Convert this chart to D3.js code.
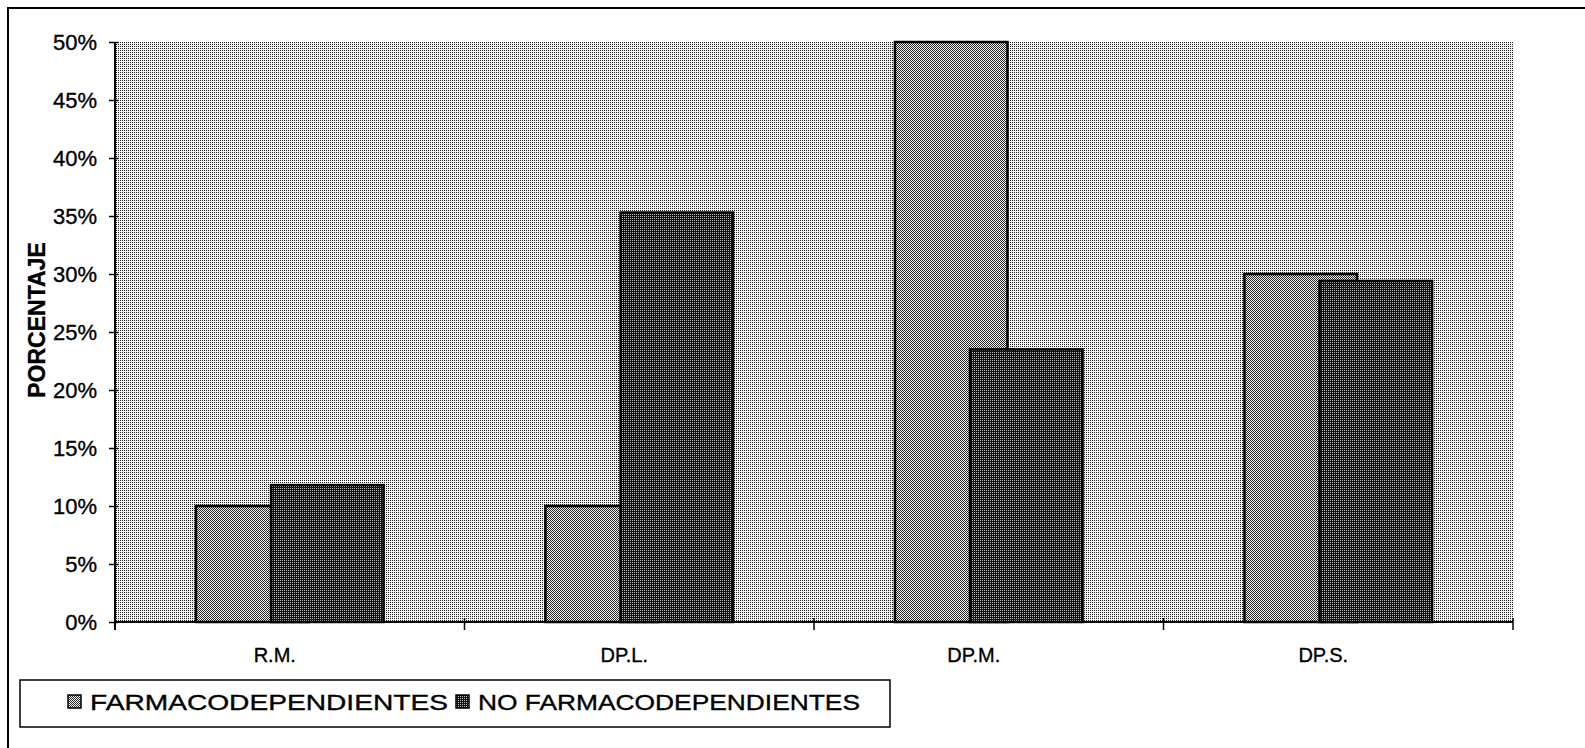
<!DOCTYPE html>
<html>
<head>
<meta charset="utf-8">
<script src="https://cdn.jsdelivr.net/npm/d3@7"></script>
<style>
  body { margin: 0; background: #fff; }
  svg text { font-family: "Liberation Sans", Arial, sans-serif; fill: #000; stroke: #000; stroke-width: 0.35px; }
</style>
</head>
<body>
<div id="chart_div"></div>
<script>
//data
var categories = ["R.M.", "DP.L.", "DP.M.", "DP.S."];
var farma = [10, 10, 50, 30];
var noFarma = [11.8, 35.3, 23.5, 29.4];
var seriesNames = ["FARMACODEPENDIENTES", "NO FARMACODEPENDIENTES"];
var yTicks = [0, 5, 10, 15, 20, 25, 30, 35, 40, 45, 50];

//globals
var width = 1585;
var height = 748;
var plotLeft = 115, plotRight = 1513, plotTop = 42, plotBottom = 622;

var svg = d3.select("#chart_div")
    .append("svg")
    .attr("width", width)
    .attr("height", height);

//patterns (scanned halftone look)
var defs = svg.append("defs");

function pixelPattern(id, bg, fg, cells) {
    var p = defs.append("pattern")
        .attr("id", id)
        .attr("patternUnits", "userSpaceOnUse")
        .attr("width", 2)
        .attr("height", 2);
    p.append("rect").attr("width", 2).attr("height", 2).attr("fill", bg);
    cells.forEach(function(c) {
        p.append("rect")
            .attr("x", c[0]).attr("y", c[1])
            .attr("width", 1).attr("height", 1)
            .attr("fill", fg);
    });
}
pixelPattern("bgPat", "#f4f4f4", "#222222", [[0, 0]]);
pixelPattern("farmaPat", "#f0f0f0", "#2a2a2a", [[0, 0], [1, 1]]);
pixelPattern("noPat", "#111111", "#bdbdbd", [[0, 0]]);

//outer frame (top and left only)
svg.append("path")
    .attr("d", "M8," + height + "V8H" + width)
    .attr("fill", "none")
    .attr("stroke", "#000")
    .attr("stroke-width", 2);

var x = d3.scaleBand()
    .domain(categories)
    .range([plotLeft, plotRight]);

var y = d3.scaleLinear()
    .domain([0, 50])
    .range([plotBottom, plotTop]);

//plot area
svg.append("rect")
    .attr("x", plotLeft)
    .attr("y", plotTop)
    .attr("width", plotRight - plotLeft)
    .attr("height", plotBottom - plotTop)
    .attr("fill", "url(#bgPat)");

//bars
var barW = x.bandwidth() * 0.322;
var step = x.bandwidth() * 0.215;
var groupStart = function(c) { return x(c) + (x.bandwidth() - barW - step) / 2; };

var series = [
    { name: seriesNames[0], values: farma, fill: "url(#farmaPat)", off: 0 },
    { name: seriesNames[1], values: noFarma, fill: "url(#noPat)", off: step }
];

series.forEach(function(s) {
    svg.append("g")
        .selectAll("rect")
        .data(categories)
        .enter()
        .append("rect")
        .attr("x", function(c) { return groupStart(c) + s.off; })
        .attr("y", function(c, i) { return y(s.values[i]); })
        .attr("width", barW)
        .attr("height", function(c, i) { return y(0) - y(s.values[i]); })
        .attr("fill", s.fill)
        .attr("stroke", "#000")
        .attr("stroke-width", 2.5);
});

//y axis
var yAxis = svg.append("g")
    .attr("transform", "translate(" + plotLeft + ",0)")
    .call(d3.axisLeft(y)
        .tickValues(yTicks)
        .tickSize(6)
        .tickPadding(12)
        .tickFormat(function(d) { return d + "%"; }));

yAxis.select(".domain")
    .attr("stroke-width", 2)
    .attr("d", "M0," + plotTop + "V" + (plotBottom + 8));
yAxis.selectAll(".tick line").attr("x1", 3).attr("stroke-width", 1.5);
yAxis.selectAll(".tick text")
    .style("font-size", "22px")
    .attr("font-family", null);

//x axis
var xAxis = svg.append("g")
    .attr("transform", "translate(0," + plotBottom + ")")
    .call(d3.axisBottom(x).tickSize(0).tickPadding(26));

xAxis.select(".domain")
    .attr("stroke-width", 2)
    .attr("d", "M" + plotLeft + ",0H" + plotRight);
xAxis.selectAll(".tick text")
    .attr("dx", -15)
    .style("font-size", "20px")
    .attr("font-family", null);

var bounds = categories.map(function(c) { return x(c); }).concat([x(categories[categories.length - 1]) + x.bandwidth()]);
xAxis.selectAll(".bound")
    .data(bounds)
    .enter()
    .append("line")
    .attr("class", "bound")
    .attr("x1", function(d) { return d; })
    .attr("x2", function(d) { return d; })
    .attr("y1", -4)
    .attr("y2", 8)
    .attr("stroke", "#000")
    .attr("stroke-width", 1.5);

//y title
svg.append("text")
    .attr("transform", "translate(45,320) rotate(-90)")
    .attr("text-anchor", "middle")
    .style("font-size", "23px")
    .style("font-weight", "bold")
    .text("PORCENTAJE");

//legend
var legend = svg.append("g");
legend.append("rect")
    .attr("x", 20)
    .attr("y", 680)
    .attr("width", 870)
    .attr("height", 47)
    .attr("fill", "#fff")
    .attr("stroke", "#000")
    .attr("stroke-width", 1.5);

var legX = [68, 456];
var legLen = [358, 382];
series.forEach(function(s, i) {
    legend.append("rect")
        .attr("x", legX[i])
        .attr("y", 695)
        .attr("width", 13)
        .attr("height", 13)
        .attr("fill", s.fill)
        .attr("stroke", "#000")
        .attr("stroke-width", 1.5);
    legend.append("text")
        .attr("x", legX[i] + 22)
        .attr("y", 710)
        .attr("textLength", legLen[i])
        .attr("lengthAdjust", "spacingAndGlyphs")
        .style("font-size", "22px")
        .text(s.name);
});
</script>
</body>
</html>
